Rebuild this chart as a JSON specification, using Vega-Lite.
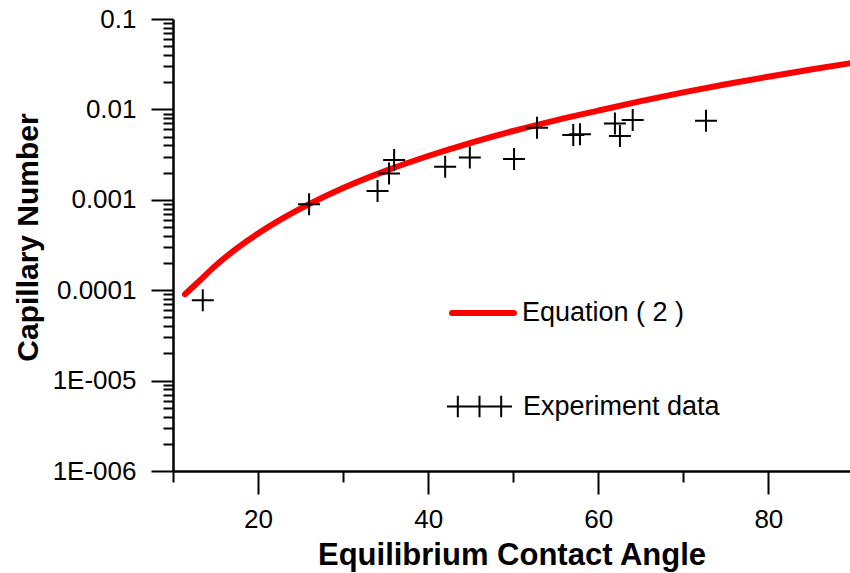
{
  "$schema": "https://vega.github.io/schema/vega-lite/v6.json",
  "width": 677,
  "height": 452,
  "autosize": {"type": "none"},
  "padding": {"left": 173, "top": 19, "right": 0, "bottom": 102},
  "background": "white",
  "config": {"view": {"stroke": null}, "font": "Liberation Sans"},
  "datasets": {
    "curve": [
      {"angle": 11.4, "ca": 0.00009},
      {"angle": 13, "ca": 0.000124},
      {"angle": 15, "ca": 0.000187},
      {"angle": 17.5, "ca": 0.00029},
      {"angle": 20, "ca": 0.000424},
      {"angle": 23, "ca": 0.000631},
      {"angle": 26, "ca": 0.000895},
      {"angle": 30, "ca": 0.00135},
      {"angle": 35, "ca": 0.00209},
      {"angle": 40, "ca": 0.00305},
      {"angle": 45, "ca": 0.00427},
      {"angle": 50, "ca": 0.00577},
      {"angle": 55, "ca": 0.00757},
      {"angle": 60, "ca": 0.0097},
      {"angle": 65, "ca": 0.01233},
      {"angle": 70, "ca": 0.01542},
      {"angle": 75, "ca": 0.01897},
      {"angle": 80, "ca": 0.02301},
      {"angle": 85, "ca": 0.02761},
      {"angle": 89.6, "ca": 0.03236}
    ],
    "exp": [
      {"angle": 13.5, "ca": 0.0000774},
      {"angle": 26.0, "ca": 0.000895},
      {"angle": 34.05, "ca": 0.00125},
      {"angle": 35.4, "ca": 0.00196},
      {"angle": 36.0, "ca": 0.00275},
      {"angle": 42.0, "ca": 0.00232},
      {"angle": 44.9, "ca": 0.00294},
      {"angle": 50.1, "ca": 0.00282},
      {"angle": 52.8, "ca": 0.00627},
      {"angle": 57.06, "ca": 0.0052},
      {"angle": 57.85, "ca": 0.0053},
      {"angle": 61.96, "ca": 0.0070},
      {"angle": 62.55, "ca": 0.00507},
      {"angle": 64.05, "ca": 0.00762},
      {"angle": 72.67, "ca": 0.00748}
    ]
  },
  "layer": [
    {
      "data": {"name": "curve"},
      "mark": {"type": "line", "strokeWidth": 6, "strokeCap": "round", "interpolate": "monotone"},
      "encoding": {
        "x": {
          "field": "angle",
          "type": "quantitative",
          "scale": {"domain": [10, 89.6], "nice": false, "zero": false},
          "axis": {
            "orient": "bottom",
            "title": "Equilibrium Contact Angle",
            "titleFont": "Liberation Sans",
            "titleFontSize": 31,
            "titleFontWeight": "bold",
            "titleColor": "black",
            "titlePadding": 8,
            "values": [20, 40, 60, 80],
            "labelFont": "Liberation Sans",
            "labelFontSize": 26,
            "labelColor": "black",
            "labelPadding": 12,
            "labelFlush": false,
            "labelOverlap": false,
            "tickSize": 23,
            "tickWidth": 2,
            "tickColor": "black",
            "domainColor": "black",
            "domainWidth": 2.5,
            "grid": false
          }
        },
        "y": {
          "field": "ca",
          "type": "quantitative",
          "scale": {"type": "log", "domain": [0.000001, 0.1], "nice": false},
          "axis": {
            "orient": "left",
            "title": "Capillary Number",
            "titleFont": "Liberation Sans",
            "titleFontSize": 30,
            "titleFontWeight": "bold",
            "titleColor": "black",
            "titlePadding": 9,
            "titleY": 218,
            "values": [0.000001, 0.00001, 0.0001, 0.001, 0.01, 0.1],
            "labelExpr": "datum.value > 0.05 ? '0.1' : datum.value > 0.005 ? '0.01' : datum.value > 0.0005 ? '0.001' : datum.value > 0.00005 ? '0.0001' : datum.value > 0.000005 ? '1E-005' : '1E-006'",
            "labelFont": "Liberation Sans",
            "labelFontSize": 26,
            "labelColor": "black",
            "labelPadding": 15,
            "labelFlush": false,
            "labelOverlap": false,
            "tickSize": 22,
            "tickWidth": 2,
            "tickColor": "black",
            "domainColor": "black",
            "domainWidth": 2.5,
            "grid": false
          }
        },
        "stroke": {
          "datum": "Equation ( 2 )",
          "scale": {"range": ["#ff0000"]},
          "legend": {
            "title": null,
            "orient": "none",
            "legendX": 276,
            "legendY": 260,
            "padding": 0,
            "symbolType": "stroke",
            "symbolSize": 3844,
            "symbolStrokeWidth": 6,
            "labelFont": "Liberation Sans",
            "labelFontSize": 27,
            "labelColor": "black",
            "labelOffset": 5,
            "labelLimit": 400,
            "encode": {"symbols": {"update": {"strokeCap": {"value": "round"}}}}
          }
        }
      }
    },
    {
      "data": {"name": "exp"},
      "mark": {"type": "point", "shape": "M-1,0H1M0,-1V1", "filled": false, "stroke": "black", "strokeWidth": 2, "size": 484},
      "encoding": {
        "x": {
          "field": "angle",
          "type": "quantitative",
          "scale": {"domain": [10, 89.6], "nice": false, "zero": false},
          "axis": {
            "orient": "bottom",
            "title": null,
            "values": [10, 30, 50, 70],
            "labels": false,
            "domain": false,
            "tickSize": 11,
            "tickWidth": 2,
            "tickColor": "black",
            "grid": false
          }
        },
        "y": {
          "field": "ca",
          "type": "quantitative",
          "scale": {"type": "log", "domain": [0.000001, 0.1], "nice": false},
          "axis": {
            "orient": "left",
            "title": null,
            "values": [0.000002, 0.000003, 0.000004, 0.000005, 0.000006, 0.000007, 0.000008, 0.000009,
                       0.00002, 0.00003, 0.00004, 0.00005, 0.00006, 0.00007, 0.00008, 0.00009,
                       0.0002, 0.0003, 0.0004, 0.0005, 0.0006, 0.0007, 0.0008, 0.0009,
                       0.002, 0.003, 0.004, 0.005, 0.006, 0.007, 0.008, 0.009,
                       0.02, 0.03, 0.04, 0.05, 0.06, 0.07, 0.08, 0.09],
            "labels": false,
            "domain": false,
            "tickSize": 10,
            "tickWidth": 2,
            "tickColor": "black",
            "grid": false
          }
        },
        "opacity": {
          "datum": "Experiment data",
          "scale": {"range": [1]},
          "legend": {
            "title": null,
            "orient": "none",
            "legendX": 273,
            "legendY": 354,
            "padding": 0,
            "symbolType": "M-1,0H1M-0.667,-0.333V0.333M0,-0.333V0.333M0.667,-0.333V0.333",
            "symbolSize": 4225,
            "symbolStrokeWidth": 2,
            "symbolStrokeColor": "black",
            "symbolFillColor": "transparent",
            "labelFont": "Liberation Sans",
            "labelFontSize": 27,
            "labelColor": "black",
            "labelOffset": 10,
            "labelLimit": 400,
            "encode": {"symbols": {"update": {
              "shape": {"value": "M-1,0H1M-0.667,-0.333V0.333M0,-0.333V0.333M0.667,-0.333V0.333"},
              "size": {"value": 4225},
              "stroke": {"value": "black"},
              "strokeWidth": {"value": 2}
            }}}
          }
        }
      }
    }
  ],
  "resolve": {"axis": {"x": "independent", "y": "independent"}}
}
